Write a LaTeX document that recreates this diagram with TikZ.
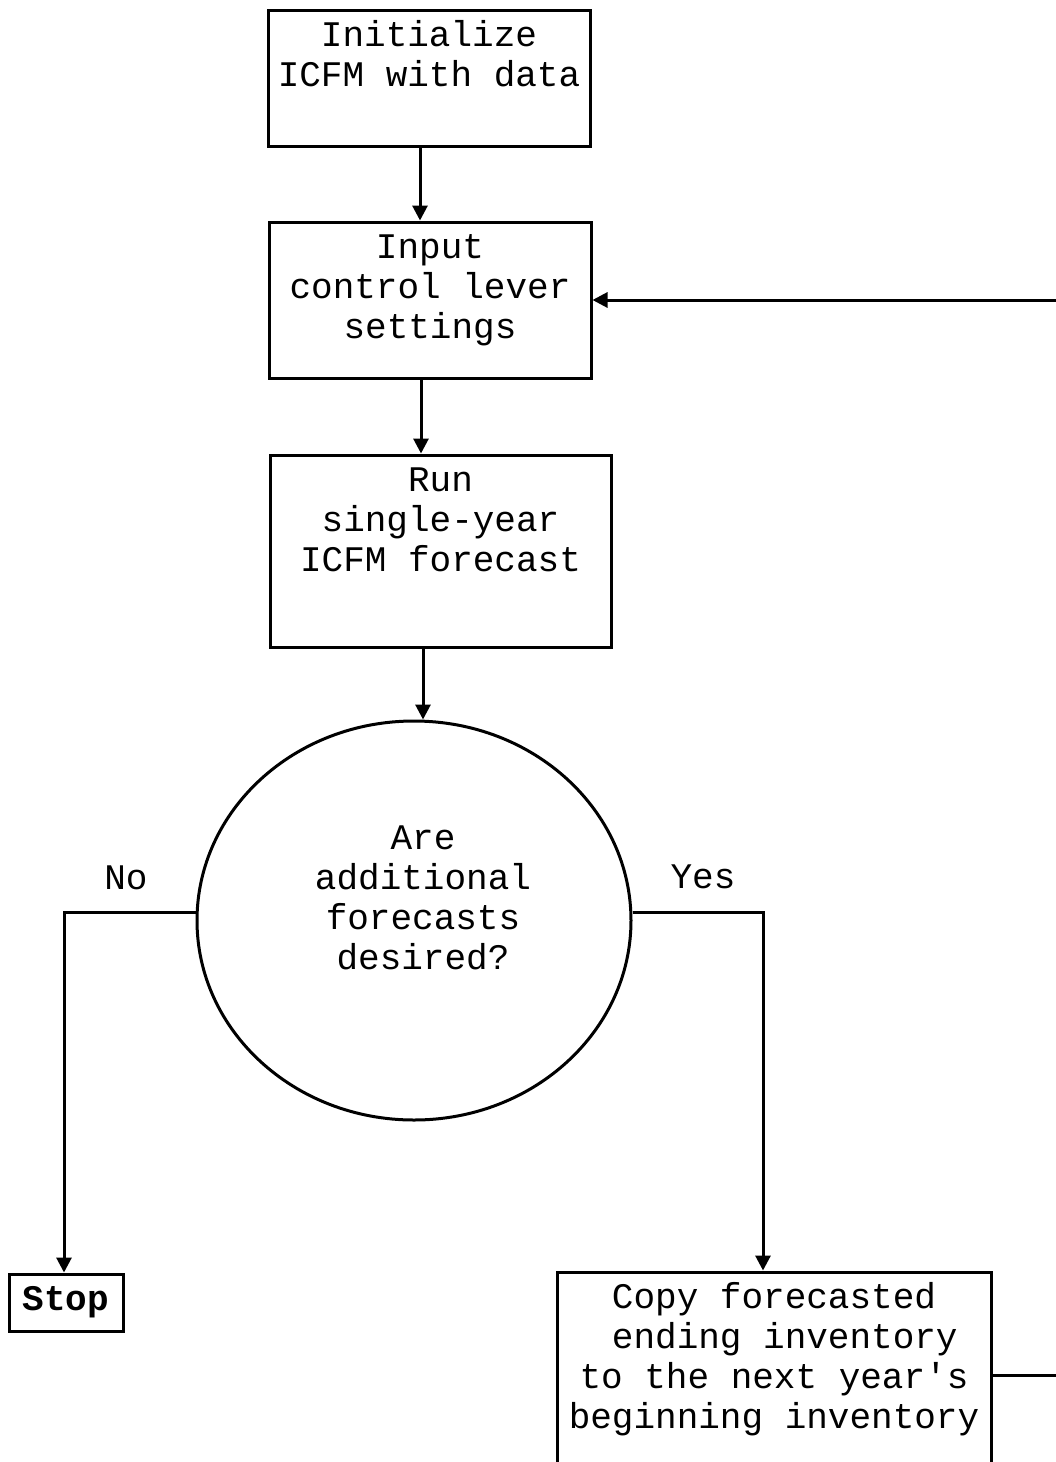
\documentclass[tikz,border=0pt]{standalone}
\usepackage{fontspec}
\setmonofont{Liberation Mono}
\usetikzlibrary{shapes.geometric,arrows.meta}
\newcommand{\toplines}[3]{\parbox[c][#2][t]{#1}{\centering\vspace*{4pt}\strut #3\par}}
\begin{document}
\begin{tikzpicture}[x=0.5pt,y=-0.5pt,line width=1.5pt]
\tikzstyle{every node}=[font=\ttfamily\fontsize{18}{20}\selectfont]
\tikzstyle{stepbox}=[draw,rectangle,inner sep=0pt]
\tikzstyle{decision}=[draw,ellipse,inner sep=0pt,minimum width=217pt,minimum height=199.5pt]
\tikzstyle{flow}=[-{Triangle[width=7.5pt,length=7.5pt]}]
\useasboundingbox (0,0) rectangle (1055,1462);
\node[stepbox] (init) at (429,78) {\toplines{161pt}{68pt}{Initialize\\ICFM with data}};
\node[stepbox] (input) at (430,300) {\toplines{161pt}{78pt}{Input\\control lever\\settings}};
\node[stepbox] (run) at (440.5,551) {\toplines{170.5pt}{96pt}{Run\\single-year\\ICFM forecast}};
\node[decision] (ask) at (414,920.5) {};
\node[align=center] (asktext) at ([shift={(9,-22.5)}]ask.center) {Are\\additional\\forecasts\\desired?};
\node[stepbox,minimum width=57pt,minimum height=28.5pt] (stop) at (66,1302.5) {\textbf{Stop}};
\node[stepbox] (copy) at (774,1381) {\toplines{217pt}{109pt}{Copy forecasted\\\phantom{x}ending inventory\\to the next year's\\beginning inventory}};
\node (no) at (126,878) {No};
\node (yes) at (703,877) {Yes};
\draw[flow] ([xshift=-4.5pt]init.south) -- ([xshift=-4.5pt]init.south |- input.north);
\draw[flow] ([xshift=-4.5pt]input.south) -- ([xshift=-4.5pt]input.south |- run.north);
\draw[flow] ([xshift=-8.75pt]run.south) -- ([xshift=-8.75pt]run.south |- ask.north);
\draw[flow] ([yshift=4.25pt]ask.west) -| ([xshift=-1pt]stop.north);
\draw[flow] ([yshift=4.25pt]ask.east) -| ([xshift=-5.5pt]copy.north);
\draw[flow] ([yshift=3pt]copy.east) -- ++(36pt,0) |- (input.east);
\end{tikzpicture}
\end{document}
